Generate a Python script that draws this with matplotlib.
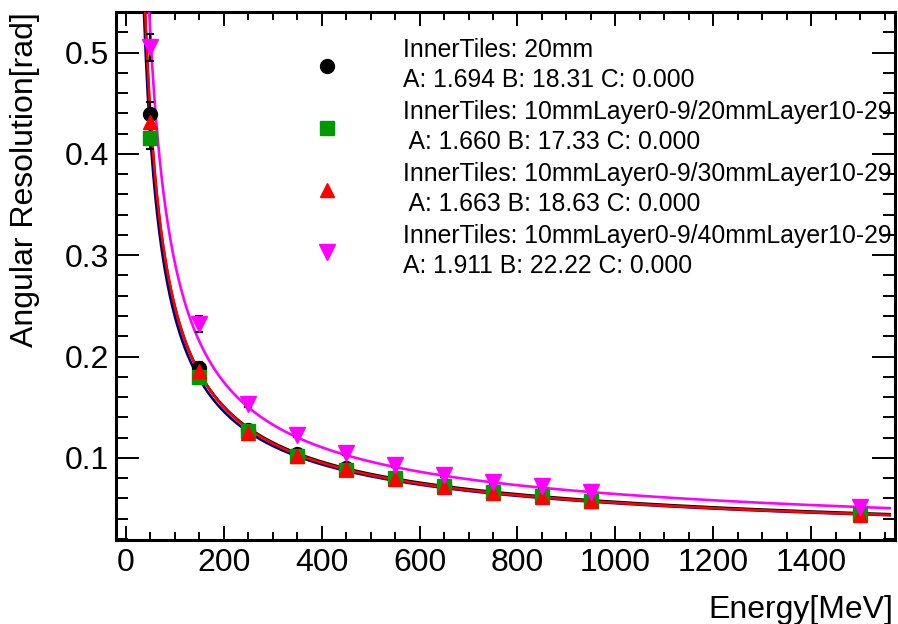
import matplotlib
matplotlib.use("Agg")
import matplotlib.pyplot as plt
import numpy as np
from matplotlib.ticker import MultipleLocator

plt.rcParams["font.family"] = ["Liberation Sans", "DejaVu Sans"]

# beam energies [MeV]
energy = [50, 150, 250, 350, 450, 550, 650, 750, 850, 950, 1500]

# angular resolution [rad]
res_20mm = [0.439, 0.189, 0.128, 0.104, 0.090, 0.080, 0.073, 0.066, 0.062, 0.058, 0.046]
res_10_20 = [0.416, 0.180, 0.127, 0.102, 0.088, 0.080, 0.072, 0.066, 0.062, 0.057, 0.045]
res_10_30 = [0.431, 0.186, 0.125, 0.102, 0.089, 0.079, 0.071, 0.065, 0.061, 0.057, 0.044]
res_10_40 = [0.505, 0.232, 0.153, 0.123, 0.105, 0.093, 0.083, 0.076, 0.072, 0.066, 0.052]

err_20mm = [0.012, 0.006, 0.003, 0.002, 0.002, 0.002, 0.002, 0.002, 0.002, 0.002, 0.002]
err_10_20 = [0.011, 0.006, 0.003, 0.002, 0.002, 0.002, 0.002, 0.002, 0.002, 0.002, 0.002]
err_10_30 = [0.011, 0.006, 0.003, 0.002, 0.002, 0.002, 0.002, 0.002, 0.002, 0.002, 0.002]
err_10_40 = [0.013, 0.008, 0.003, 0.002, 0.002, 0.002, 0.002, 0.002, 0.002, 0.002, 0.002]

# fit parameters from the legend
fit_a = [1.694, 1.660, 1.663, 1.911]
fit_b = [18.31, 17.33, 18.63, 22.22]
fit_c = [0.000, 0.000, 0.000, 0.000]

labels = [
    "InnerTiles: 20mm\nA: 1.694 B: 18.31 C: 0.000",
    "InnerTiles: 10mmLayer0-9/20mmLayer10-29\n A: 1.660 B: 17.33 C: 0.000",
    "InnerTiles: 10mmLayer0-9/30mmLayer10-29\n A: 1.663 B: 18.63 C: 0.000",
    "InnerTiles: 10mmLayer0-9/40mmLayer10-29\nA: 1.911 B: 22.22 C: 0.000",
]


def resolution(e, a, b, c):
    return np.sqrt((a / np.sqrt(e)) ** 2 + (b / e) ** 2 + c ** 2)


fig = plt.figure(figsize=(8.98, 6.24), dpi=100)
ax = fig.add_axes([116 / 898, 84 / 624, 779 / 898, 528 / 624])

series = [res_20mm, res_10_20, res_10_30, res_10_40]
errors = [err_20mm, err_10_20, err_10_30, err_10_40]
markers = ["o", "s", "^", "v"]
mcolors = ["black", "#009900", "red", "magenta"]
msizes = [10, 10, 10, 11]
lcolors = ["black", "navy", "red", "magenta"]
zorders = [3, 2, 4, 5]

e_fine = np.linspace(10, 1560, 1200)
handles = []
for i in range(4):
    ax.plot(e_fine, resolution(e_fine, fit_a[i], fit_b[i], fit_c[i]),
            color=lcolors[i], lw=1.9, zorder=zorders[i])
for i in range(4):
    ax.errorbar(energy, series[i], yerr=errors[i], fmt="none",
                ecolor="black", elinewidth=1.5, capsize=3, capthick=1.5, zorder=6)
    h, = ax.plot(energy, series[i], ls="none", marker=markers[i],
                 color=mcolors[i], ms=msizes[i], mec=mcolors[i], zorder=7 + i)
    handles.append(h)

ax.set_xlim(-20, 1571)
ax.set_ylim(0.019, 0.540)
ax.xaxis.set_major_locator(MultipleLocator(200))
ax.xaxis.set_minor_locator(MultipleLocator(50))
ax.yaxis.set_major_locator(MultipleLocator(0.1))
ax.yaxis.set_minor_locator(MultipleLocator(0.02))
ax.yaxis.set_major_formatter(matplotlib.ticker.FormatStrFormatter("%.1f"))

for side in ax.spines.values():
    side.set_linewidth(2.2)
ax.tick_params(axis="both", which="both", direction="in", top=True, right=True,
               width=1.4, labelsize=23)
ax.tick_params(axis="x", which="major", length=10, pad=6)
ax.tick_params(axis="x", which="minor", length=5.5)
ax.tick_params(axis="y", which="major", length=16.5, pad=5)
ax.tick_params(axis="y", which="minor", length=8.5)

fig.text(893 / 898, 1 - 618 / 624, "Energy[MeV]", ha="right", va="baseline", fontsize=23)
fig.text(25 / 898, 1 - 12 / 624, "Angular Resolution[rad]", ha="center", va="top",
         rotation=90, fontsize=23)

leg = fig.legend(handles, labels, loc="upper left",
                 bbox_to_anchor=(302 / 898, 1 - 38 / 624), frameon=False,
                 fontsize=17.8, handlelength=2.0, handletextpad=2.1,
                 labelspacing=0.32, borderpad=0, borderaxespad=0)
for t in leg.get_texts():
    t.set_linespacing(1.32)

fig.savefig("out.png", dpi=100)
